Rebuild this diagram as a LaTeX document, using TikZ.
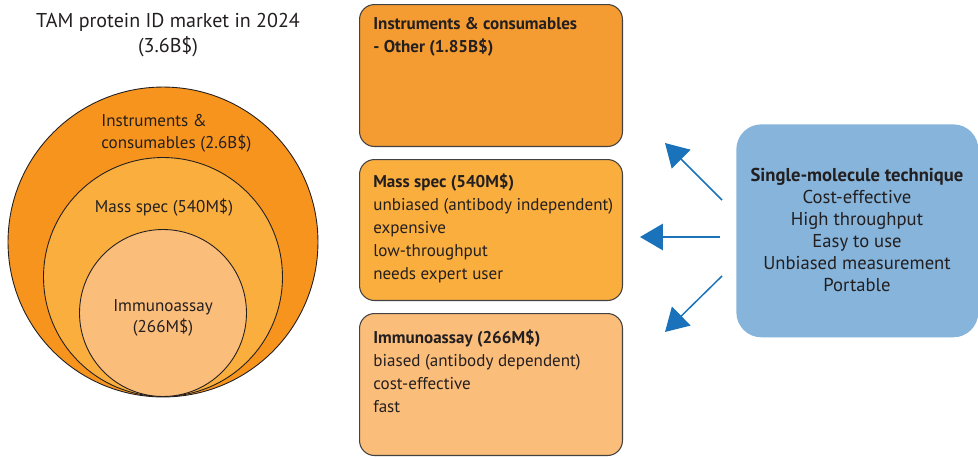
\documentclass[tikz,border=0pt]{standalone}
\usepackage{fontspec}
\setmainfont{PT Sans}
\usetikzlibrary{arrows.meta}

\definecolor{txt}{HTML}{231F20}
\definecolor{orA}{HTML}{F7941D}
\definecolor{orB}{HTML}{F9AE3E}
\definecolor{orC}{HTML}{FBBD7A}
\definecolor{boxA}{HTML}{F49C31}
\definecolor{smblue}{HTML}{86B4DB}
\definecolor{arrblue}{HTML}{1A73BA}

\begin{document}
\begin{tikzpicture}[x=0.02cm, y=-0.02cm, text=txt,
    every node/.style={inner sep=0pt},
    ring/.style={circle, draw=txt, line width=0.5pt},
    catbox/.style={draw=txt!85, line width=0.6pt, rounded corners=0.3cm,
        minimum width=5.26cm, minimum height=2.84cm, anchor=north west},
    boxtext/.style={anchor=north west, align=left, font=\fontsize{9.7}{13}\selectfont},
    arr/.style={draw=arrblue, line width=0.85pt, -{Triangle[length=13pt, width=15pt]}}]
    \useasboundingbox (0,0) rectangle (978,457);
    % market title
    \node[align=center, font=\fontsize{11.4}{14.7}\selectfont] (title) at (168,35)
        {TAM protein ID market in 2024\\(3.6B\$)};
    % nested circles
    \node[ring, fill=orA, minimum size=6.2cm] (outer) at (163,242) {};
    \node[ring, fill=orB, minimum size=4.78cm] (middle) at (163,277) {};
    \node[ring, fill=orC, minimum size=3.34cm] (inner) at (163,313) {};
    \node[anchor=north west, align=left, font=\fontsize{9.7}{12.3}\selectfont] (lblA) at (101,114)
        {Instruments \&\\consumables (2.6B\$)};
    \node[font=\fontsize{9.7}{12.3}\selectfont] (lblB) at (164,208) {Mass spec (540M\$)};
    \node[align=center, font=\fontsize{9.7}{12.3}\selectfont] (lblC) at (163,318)
        {Immunoassay\\(266M\$)};
    % category boxes
    \node[catbox, fill=boxA] (other) at (359,4) {};
    \node[catbox, fill=orB, minimum height=2.82cm] (mass) at (359,159) {};
    \node[catbox, fill=orC] (immuno) at (359,313) {};
    \node[boxtext] (otherT) at (373,17)
        {\textbf{Instruments \& consumables}\\\textbf{- Other (1.85B\$)}};
    \node[boxtext] (massT) at (373,174)
        {\textbf{Mass spec (540M\$)}\\unbiased (antibody independent)\\expensive\\low-throughput\\needs expert user};
    \node[boxtext] (immunoT) at (373,330)
        {\textbf{Immunoassay (266M\$)}\\biased (antibody dependent)\\cost-effective\\fast};
    % single-molecule box
    \node[fill=smblue, rounded corners=0.5cm, minimum width=4.84cm, minimum height=4.26cm,
        anchor=north west] (sm) at (736,124) {};
    \node[align=center, font=\fontsize{10.6}{12.5}\selectfont] (smT) at (857,230)
        {\textbf{Single-molecule technique}\\Cost-effective\\High throughput\\Easy to use\\Unbiased measurement\\Portable};
    % arrows
    \coordinate (s1) at (722,200);
    \coordinate (s2) at (720,237);
    \coordinate (s3) at (722,276);
    \coordinate (e1) at (665,143);
    \coordinate (e2) at (640,237);
    \coordinate (e3) at (665,332);
    \draw[arr] (s1) -- (e1);
    \draw[arr] (s2) -- (e2);
    \draw[arr] (s3) -- (e3);
\end{tikzpicture}
\end{document}
